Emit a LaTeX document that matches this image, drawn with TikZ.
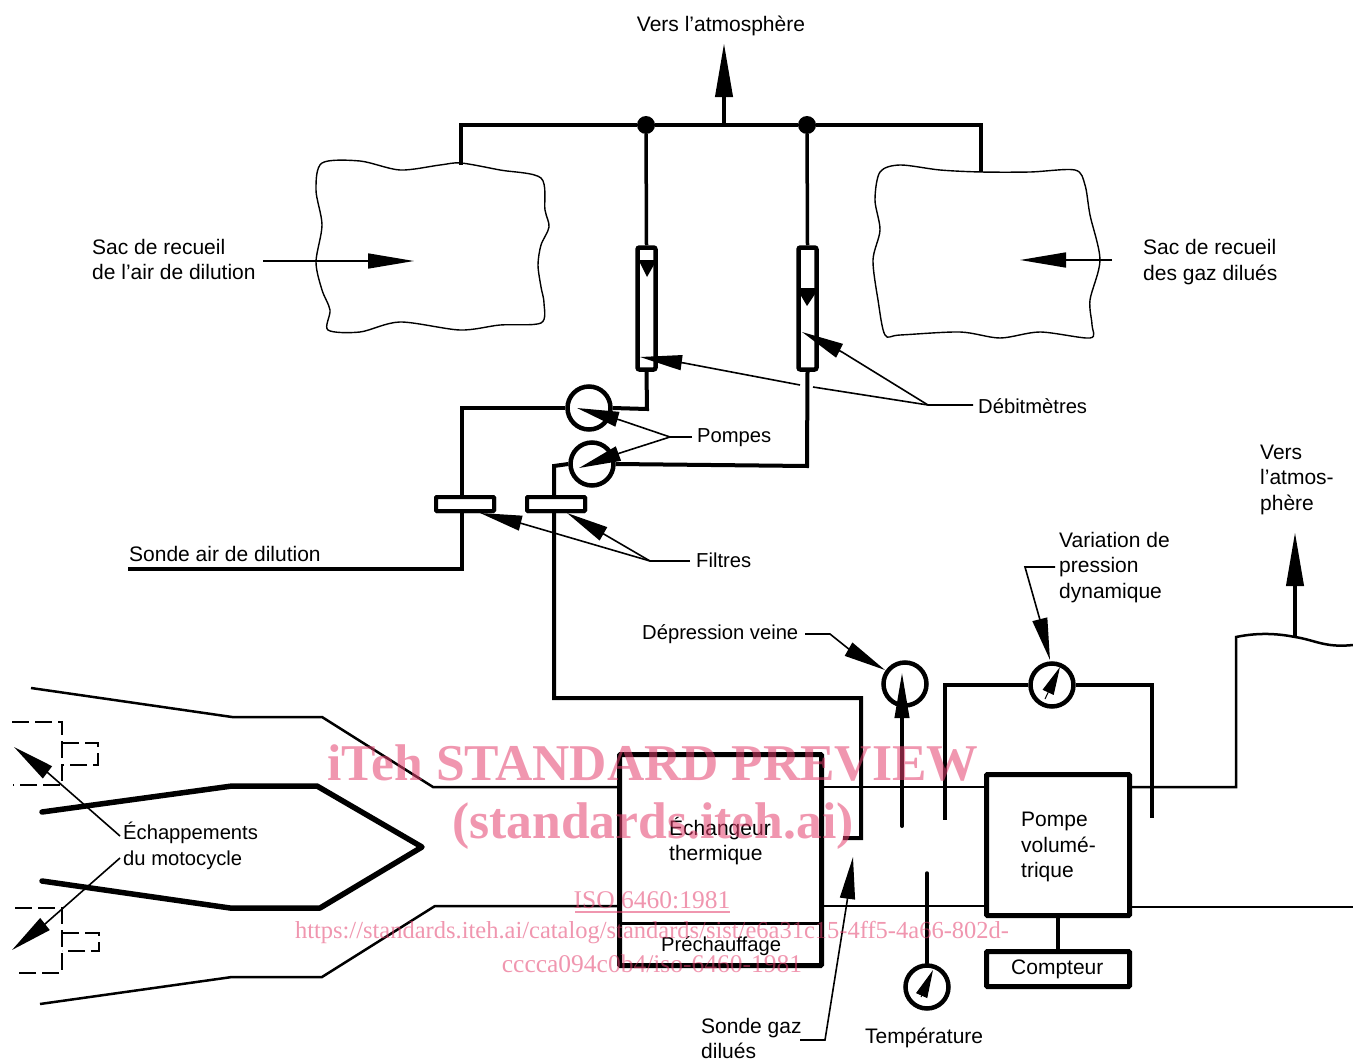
\documentclass[tikz,border=0pt]{standalone}
\usepackage{fontspec}
\setmainfont{Liberation Sans}
\newfontfamily\wmfont{Liberation Serif}
\usetikzlibrary{arrows.meta,calc}
\definecolor{wmpink}{rgb}{0.89,0.25,0.43}
\tikzset{
  lbl/.style={inner sep=0pt,anchor=west,align=left,font=\fontsize{21}{25.5}\selectfont},
  lbs/.style={inner sep=0pt,anchor=west,align=left,font=\fontsize{20.2}{25.5}\selectfont},
  pipe/.style={line width=4pt,line join=miter},
  duct/.style={line width=2.5pt},
  bag/.style={line width=1.4pt},
  thickduct/.style={line width=5.5pt,line join=round,line cap=round},
  ghost/.style={line width=2pt,dash pattern=on 17pt off 6pt},
  leader/.style={line width=1.6pt},
  ptr/.style={line width=1.6pt,-{Triangle[length=42pt,width=15pt]}},
  bigptr/.style={line width=4pt,-{Triangle[length=54pt,width=17pt]}},
  needle/.style={line width=1pt,-{Triangle[length=28pt,width=12pt]}},
  gauge/.style={circle,draw,line width=4.5pt,minimum size=43pt,inner sep=0pt},
  boxed/.style={draw,line width=5pt,inner sep=0pt,rounded corners=1pt},
  meter/.style={draw,line width=4.5pt,inner sep=0pt,rounded corners=2pt,minimum width=18pt,minimum height=122pt},
  filt/.style={draw,fill=white,line width=4pt,inner sep=0pt,rounded corners=1pt,minimum width=58pt,minimum height=14pt},
  junction/.style={circle,fill,inner sep=0pt,minimum size=18pt},
  wm/.style={text=wmpink,text opacity=.55,inner sep=0pt},
}
\begin{document}
\begin{tikzpicture}[x=1pt,y=-1pt]
\useasboundingbox (0,0) rectangle (1353,1060);
% exhaust ducts
\draw[duct] (31,688) -- (232,717) -- (322,717) -- (433,787) -- (618,787);
\draw[duct] (40,1004) -- (232,977) -- (322,977) -- (435,906) -- (618,906);
\draw[thickduct] (42,812) -- (232,786) -- (317,786) -- (422,847) -- (320,908) -- (230,908) -- (42,881);
\draw[ghost] (12,722) -- (62,722) -- (62,785) -- (13,785);
\draw[ghost] (62,743) -- (98,743) -- (98,765) -- (62,765);
\draw[ghost] (15,908) -- (62,908) -- (62,973) -- (15,973);
\draw[ghost] (62,933) -- (99,933) -- (99,951) -- (62,951);
% bags
\draw[bag] plot[smooth cycle,tension=.5] coordinates {(322,163) (360,161) (400,170) (440,165) (461,163) (500,170) (541,178) (545,210) (549,227) (541,245) (538,265) (541,287) (544,303) (541,323) (500,325) (460,330) (400,322) (360,332) (328,330) (330,310) (322,290) (316,262) (322,225) (316,190)};
\draw[bag] plot[smooth cycle,tension=.5] coordinates {(880,172) (900,165) (940,170) (981,172) (1030,172) (1075,170) (1085,185) (1090,215) (1100,260) (1090,300) (1092,325) (1090,338) (1040,332) (1000,338) (960,332) (900,335) (885,335) (878,300) (873,260) (880,230) (875,200)};
% junctions and instruments
\node[junction] (j1) at (646,125) {};
\node[junction] (j2) at (807,125) {};
\node[meter] (fm1) at (646.5,308.5) {};
\node[meter] (fm2) at (807.5,308.5) {};
\node[gauge] (p1) at (589,408) {};
\node[gauge] (p2) at (592,464) {};
\node[filt] (f1) at (465,504) {};
\node[filt] (f2) at (556,504) {};
\node[gauge] (gd) at (905,684) {};
\node[gauge] (gv) at (1052,685) {};
\node[gauge] (gt) at (927,987) {};
\node[boxed,minimum width=202pt,minimum height=211pt] (ech) at (720.5,860) {};
\node[boxed,minimum width=143pt,minimum height=141pt] (pv) at (1058,845) {};
\node[boxed,minimum width=143pt,minimum height=35pt] (cpt) at (1058,969) {};
\coordinate (divL) at (618,923);
\coordinate (divR) at (823,923);
\draw[line width=3pt] (divL) -- (divR);
% labels
\node[lbl,anchor=center] (tatm) at (721,26) {Vers l'atmosphère};
\node[lbl] (tsac1) at (92,259.5) {Sac de recueil\\de l'air de dilution};
\node[lbl] (tsac2) at (1143,262) {Sac de recueil\\des gaz dilués};
\node[lbs] (tdeb) at (978,406) {Débitmètres};
\node[lbs] (tpom) at (697,438) {Pompes};
\node[lbs] (tfil) at (696,560) {Filtres};
\node[lbl] (tsonde) at (129,554) {Sonde air de dilution};
\node[lbl] (tvers) at (1260,479.5) {Vers\\l'atmos-\\phère};
\node[lbl] (tvar) at (1059,567.5) {Variation de\\pression\\dynamique};
\node[lbs] (tdep) at (642,634) {Dépression veine};
\node[lbl] (tech) at (669,841) {Échangeur\\thermique};
\node[lbs] (tpre) at (661,946) {Préchauffage};
\node[lbl] (tpv) at (1021,847) {Pompe\\volumé-\\trique};
\node[lbl] (tcpt) at (1011,969) {Compteur};
\node[lbl] (tsg) at (701,1038.5) {Sonde gaz\\dilués};
\node[lbl] (ttemp) at (865,1038) {Température};
\node[lbs] (tepa) at (123,846) {Échappements\\du motocycle};
% top pipework
\coordinate (bagL) at (461,165);
\coordinate (bagR) at (981,172);
\draw[pipe] (bagL) |- (j1) -- (j2) -| (bagR);
\coordinate (outT) at (724,125);
\coordinate (outTip) at (724,43);
\draw[bigptr] (outT) -- (outTip);
\draw[line width=3.5pt] (j1) -- (fm1.north);
\draw[line width=3.5pt] (j2) -- (fm2.north);
\coordinate (c1) at (647,409);
\draw[pipe] (fm1.south) -- (c1) -- (p1.east);
\coordinate (c2) at (807,466);
\draw[pipe] (fm2.south) -- (c2) -- (p2.east);
\coordinate (c3) at (462,408);
\coordinate (c4) at (462,569);
\coordinate (sondeEnd) at (128,569);
\draw[pipe] (p1.west) -- (c3) -- (c4) -- (sondeEnd);
\coordinate (c5) at (554,466);
\coordinate (c6) at (554,698);
\coordinate (c7) at (861,698);
\coordinate (c8) at (861,838);
\coordinate (c9) at (843,838);
\draw[pipe] (p2.west) -- (c5) -- (c6) -- (c7) -- (c8) -- (c9);
\node[filt] at (f1) {};
\node[filt] at (f2) {};
% meter floats
\fill (638,260) rectangle (655,263);
\fill (640,263) -- (655,263) -- (647,277) -- cycle;
\fill (799,288) rectangle (816,294);
\fill (800,294) -- (815,294) -- (807,306) -- cycle;
% ducts right
\coordinate (d1) at (985,787);
\coordinate (d2) at (823,787);
\draw[duct] (d2) -- (d1);
\coordinate (d3) at (823,906);
\coordinate (d4) at (985,906);
\draw[duct] (d3) -- (d4);
\coordinate (d5) at (1131,787);
\coordinate (d6) at (1236,787);
\coordinate (d7) at (1236,637);
\draw[duct] (d5) -- (d6) -- (d7) .. controls (1260,632) and (1280,634) .. (1295,637) .. controls (1315,640) and (1325,648) .. (1353,645);
\coordinate (d8) at (1131,907);
\coordinate (d9) at (1353,907);
\draw[duct] (d8) -- (d9);
\coordinate (ventB) at (1295,637);
\coordinate (ventT) at (1295,532);
\draw[bigptr] (ventB) -- (ventT);
\draw[pipe] (pv.south) -- (cpt.north);
% probes
\coordinate (v1) at (945,685);
\coordinate (v2) at (945,820);
\draw[pipe] (gv.west) -- (v1) -- (v2);
\coordinate (v3) at (1152,685);
\coordinate (v4) at (1152,818);
\draw[pipe] (gv.east) -- (v3) -- (v4);
\coordinate (dpB) at (902,826);
\coordinate (dpT) at (902,672);
\draw[line width=4pt,line cap=round,-{Triangle[length=46pt,width=14pt]}] (dpB) -- (dpT);
\coordinate (tpT) at (927,873);
\draw[line width=3.5pt,line cap=round] (tpT) -- (gt.north);
% needles
\coordinate (nvA) at (1045,699);
\coordinate (nvB) at (1060,667);
\draw[needle] (nvA) -- (nvB);
\coordinate (ntA) at (921,997);
\coordinate (ntB) at (933,970);
\draw[needle] (ntA) -- (ntB);
% pointers
\coordinate (sl1a) at (263,261);
\coordinate (sl1b) at (414,261);
\draw[line width=1.6pt,-{Triangle[length=46pt,width=15pt]}] (sl1a) -- (sl1b);
\coordinate (sl2a) at (1112,260);
\coordinate (sl2b) at (1020,260);
\draw[line width=1.6pt,-{Triangle[length=46pt,width=15pt]}] (sl2a) -- (sl2b);
% debitmetres
\coordinate (dj) at (928,405);
\coordinate (dg1) at (813,387);
\coordinate (dg2) at (800,385);
\coordinate (db1) at (684,363);
\coordinate (dt1) at (640,357);
\coordinate (db2) at (842,352);
\coordinate (dt2) at (802,332);
\draw[leader] ($(tdeb.west)+(-5,-1)$) -- (dj) -- (dg1);
\draw[ptr] (dg2) -- (db1) -- (dt1);
\draw[ptr] (dj) -- (db2) -- (dt2);
% pompes
\coordinate (pj) at (670,437);
\coordinate (pb1) at (620,420);
\coordinate (pt1) at (577,408);
\coordinate (pb2) at (620,453);
\coordinate (pt2) at (579,468);
\draw[leader] ($(tpom.west)+(-5,-1)$) -- (pj);
\draw[ptr] (pj) -- (pb1) -- (pt1);
\draw[ptr] (pj) -- (pb2) -- (pt2);
% filtres
\coordinate (fj) at (650,561);
\coordinate (fb1) at (520,523);
\coordinate (ft1) at (480,513);
\coordinate (fb2) at (602,533);
\coordinate (ft2) at (567,513);
\draw[leader] ($(tfil.west)+(-6,1)$) -- (fj);
\draw[ptr] (fj) -- (fb1) -- (ft1);
\draw[ptr] (fj) -- (fb2) -- (ft2);
% depression
\coordinate (ddA) at (805,634);
\coordinate (ddB) at (830,634);
\coordinate (ddC) at (850,650);
\coordinate (ddT) at (885,670);
\draw[ptr] (ddA) -- (ddB) -- (ddC) -- (ddT);
% variation
\coordinate (vvA) at (1055,567);
\coordinate (vvB) at (1025,567);
\coordinate (vvC) at (1040,620);
\coordinate (vvT) at (1050,660);
\draw[ptr] (vvA) -- (vvB) -- (vvC) -- (vvT);
% sonde gaz
\coordinate (sgA) at (800,1040);
\coordinate (sgB) at (825,1040);
\coordinate (sgC) at (847,902);
\coordinate (sgT) at (853,857);
\draw[ptr] (sgA) -- (sgB) -- (sgC) -- (sgT);
% echappements
\coordinate (ea1) at (120,836);
\coordinate (ea2) at (47,772);
\coordinate (ea3) at (14,747);
\draw[ptr] (ea1) -- (ea2) -- (ea3);
\coordinate (eb1) at (120,858);
\coordinate (eb2) at (45,924);
\coordinate (eb3) at (12,950);
\draw[ptr] (eb1) -- (eb2) -- (eb3);
% watermark
\node[wm,font=\wmfont\bfseries\fontsize{51.6}{52}\selectfont] (w1) at (653,763) {iTeh STANDARD PREVIEW};
\node[wm,font=\wmfont\bfseries\fontsize{51.6}{52}\selectfont] (w2) at (653,826) {(standards.iteh.ai)};
\node[wm,font=\wmfont\fontsize{25.5}{26}\selectfont] (w3) at (652,900) {ISO 6460:1981};
\coordinate (ulA) at (575,912);
\coordinate (ulB) at (730,912);
\draw[wmpink,opacity=.55,line width=1.3pt] (ulA) -- (ulB);
\node[wm,font=\wmfont\fontsize{24.5}{26}\selectfont] (w4) at (652,933) {https://standards.iteh.ai/catalog/standards/sist/e6a31c15-4ff5-4a66-802d-};
\node[wm,font=\wmfont\fontsize{25.5}{26}\selectfont] (w5) at (652,964) {cccca094c0b4/iso-6460-1981};
\end{tikzpicture}
\end{document}
